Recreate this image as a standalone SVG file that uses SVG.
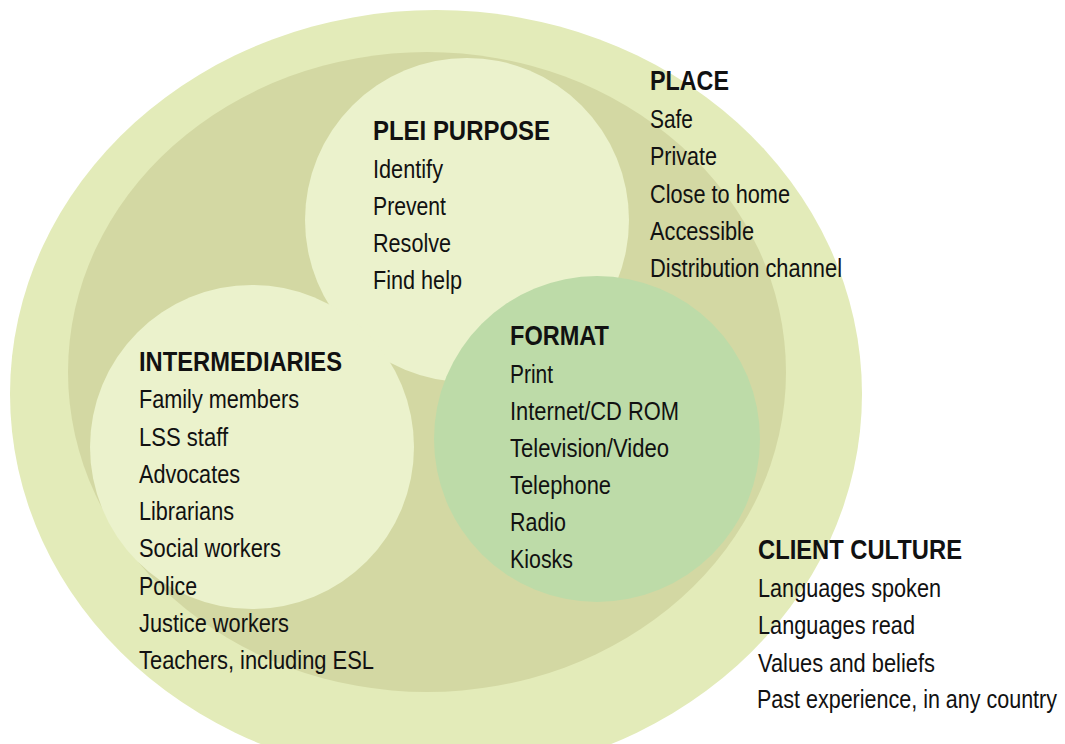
<svg xmlns="http://www.w3.org/2000/svg" width="1065" height="744" viewBox="0 0 1065 744">
  <style>
    .t { font-family: "Liberation Sans", Arial, sans-serif; font-size: 26px; fill: #111; }
    .h { font-weight: bold; font-size: 27px; }
    .outer { fill: #e3ebb9; }
    .inner { fill: #d3d8a3; }
    .pale { fill: #ebf2cc; }
    .format { fill: #bddba8; }
  </style>
  <rect width="1065" height="744" fill="#ffffff"/>

  <!-- client culture / place rings -->
  <g id="client-culture-ring">
    <ellipse class="outer" cx="436" cy="394" rx="426" ry="384"/>
  </g>
  <g id="place-ring">
    <ellipse class="inner" cx="427" cy="372" rx="359" ry="320"/>
  </g>

  <!-- purpose / intermediaries / format circles -->
  <g id="plei-purpose">
    <circle class="pale" cx="467" cy="220" r="162"/>
    <text class="t h" x="373" y="140" textLength="177" lengthAdjust="spacingAndGlyphs">PLEI PURPOSE</text>
    <text class="t" x="373" y="178" textLength="70" lengthAdjust="spacingAndGlyphs">Identify</text>
    <text class="t" x="373" y="215" textLength="73" lengthAdjust="spacingAndGlyphs">Prevent</text>
    <text class="t" x="373" y="252" textLength="78" lengthAdjust="spacingAndGlyphs">Resolve</text>
    <text class="t" x="373" y="289" textLength="89" lengthAdjust="spacingAndGlyphs">Find help</text>
  </g>

  <g id="intermediaries">
    <circle class="pale" cx="252" cy="447" r="162"/>
  </g>

  <g id="format">
    <circle class="format" cx="597" cy="439" r="163"/>
    <text class="t h" x="510" y="345" textLength="99" lengthAdjust="spacingAndGlyphs">FORMAT</text>
    <text class="t" x="510" y="383" textLength="43" lengthAdjust="spacingAndGlyphs">Print</text>
    <text class="t" x="510" y="420" textLength="169" lengthAdjust="spacingAndGlyphs">Internet/CD ROM</text>
    <text class="t" x="510" y="457" textLength="159" lengthAdjust="spacingAndGlyphs">Television/Video</text>
    <text class="t" x="510" y="494" textLength="101" lengthAdjust="spacingAndGlyphs">Telephone</text>
    <text class="t" x="510" y="531" textLength="56" lengthAdjust="spacingAndGlyphs">Radio</text>
    <text class="t" x="510" y="568" textLength="63" lengthAdjust="spacingAndGlyphs">Kiosks</text>
  </g>

  <g id="intermediaries-text">
    <text class="t h" x="139" y="371" textLength="203" lengthAdjust="spacingAndGlyphs">INTERMEDIARIES</text>
    <text class="t" x="139" y="408" textLength="160" lengthAdjust="spacingAndGlyphs">Family members</text>
    <text class="t" x="139" y="446" textLength="89" lengthAdjust="spacingAndGlyphs">LSS staff</text>
    <text class="t" x="139" y="483" textLength="101" lengthAdjust="spacingAndGlyphs">Advocates</text>
    <text class="t" x="139" y="520" textLength="95" lengthAdjust="spacingAndGlyphs">Librarians</text>
    <text class="t" x="139" y="557" textLength="142" lengthAdjust="spacingAndGlyphs">Social workers</text>
    <text class="t" x="139" y="595" textLength="58" lengthAdjust="spacingAndGlyphs">Police</text>
    <text class="t" x="139" y="632" textLength="150" lengthAdjust="spacingAndGlyphs">Justice workers</text>
    <text class="t" x="139" y="669" textLength="235" lengthAdjust="spacingAndGlyphs">Teachers, including ESL</text>
  </g>

  <g id="place">
    <text class="t h" x="650" y="90" textLength="79" lengthAdjust="spacingAndGlyphs">PLACE</text>
    <text class="t" x="650" y="128" textLength="43" lengthAdjust="spacingAndGlyphs">Safe</text>
    <text class="t" x="650" y="165" textLength="67" lengthAdjust="spacingAndGlyphs">Private</text>
    <text class="t" x="650" y="203" textLength="140" lengthAdjust="spacingAndGlyphs">Close to home</text>
    <text class="t" x="650" y="240" textLength="104" lengthAdjust="spacingAndGlyphs">Accessible</text>
    <text class="t" x="650" y="277" textLength="192" lengthAdjust="spacingAndGlyphs">Distribution channel</text>
  </g>

  <g id="client-culture">
    <text class="t h" x="758" y="559" textLength="204" lengthAdjust="spacingAndGlyphs">CLIENT CULTURE</text>
    <text class="t" x="758" y="597" textLength="183" lengthAdjust="spacingAndGlyphs">Languages spoken</text>
    <text class="t" x="758" y="634" textLength="157" lengthAdjust="spacingAndGlyphs">Languages read</text>
    <text class="t" x="758" y="672" textLength="177" lengthAdjust="spacingAndGlyphs">Values and beliefs</text>
    <text class="t" x="757" y="708" textLength="300" lengthAdjust="spacingAndGlyphs">Past experience, in any country</text>
  </g>

  <g id="connectors"></g>
</svg>
